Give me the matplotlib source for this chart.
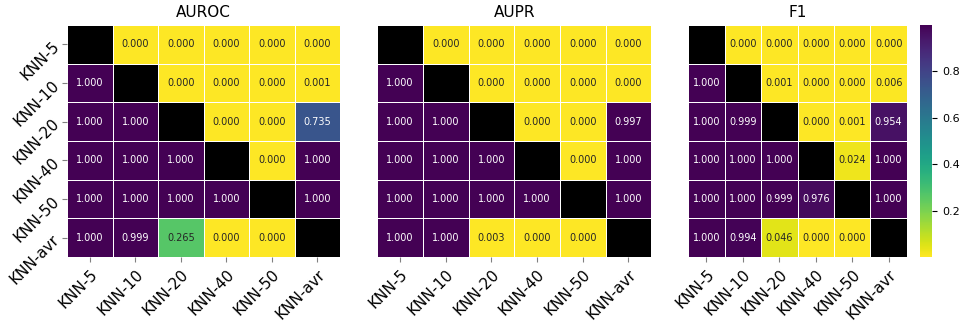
import numpy as np
import seaborn as sns
from matplotlib import pyplot as plt

labels = ["KNN-5", "KNN-10", "KNN-20", "KNN-40", "KNN-50", "KNN-avr"]
titles = ["AUROC", "AUPR", "F1"]

auroc = [[np.nan, 0.000, 0.000, 0.000, 0.000, 0.000],
         [1.000, np.nan, 0.000, 0.000, 0.000, 0.001],
         [1.000, 1.000, np.nan, 0.000, 0.000, 0.735],
         [1.000, 1.000, 1.000, np.nan, 0.000, 1.000],
         [1.000, 1.000, 1.000, 1.000, np.nan, 1.000],
         [1.000, 0.999, 0.265, 0.000, 0.000, np.nan]]
aupr = [[np.nan, 0.000, 0.000, 0.000, 0.000, 0.000],
        [1.000, np.nan, 0.000, 0.000, 0.000, 0.000],
        [1.000, 1.000, np.nan, 0.000, 0.000, 0.997],
        [1.000, 1.000, 1.000, np.nan, 0.000, 1.000],
        [1.000, 1.000, 1.000, 1.000, np.nan, 1.000],
        [1.000, 1.000, 0.003, 0.000, 0.000, np.nan]]
f1 = [[np.nan, 0.000, 0.000, 0.000, 0.000, 0.000],
      [1.000, np.nan, 0.001, 0.000, 0.000, 0.006],
      [1.000, 0.999, np.nan, 0.000, 0.001, 0.954],
      [1.000, 1.000, 1.000, np.nan, 0.024, 1.000],
      [1.000, 1.000, 0.999, 0.976, np.nan, 1.000],
      [1.000, 0.994, 0.046, 0.000, 0.000, np.nan]]

fig = plt.figure(figsize=(9.72, 3.24), dpi=100)
axes = [fig.add_axes([0.069, 0.207, 0.281, 0.716]),
        fig.add_axes([0.388, 0.207, 0.282, 0.716]),
        fig.add_axes([0.708, 0.207, 0.225, 0.716])]
cax = fig.add_axes([0.947, 0.207, 0.012, 0.716])

for i, (ax, data, title) in enumerate(zip(axes, [auroc, aupr, f1], titles)):
    last = i == 2
    sns.heatmap(np.array(data), ax=ax, cmap="viridis_r", annot=True, fmt=".3f",
                annot_kws={"fontsize": 7}, linewidths=0.5, linecolor="white",
                cbar=last, cbar_ax=cax if last else None,
                xticklabels=labels, yticklabels=labels if i == 0 else False)
    ax.set_facecolor("black")
    ax.set_title(title, fontsize=11)
    ax.set_xticklabels(labels, rotation=45, ha="right", rotation_mode="anchor", fontsize=11)
    ax.tick_params(axis="x", length=3.5, color="gray")
    if i == 0:
        ax.set_yticklabels(labels, rotation=45, ha="right", rotation_mode="anchor", fontsize=11)
        ax.tick_params(axis="y", length=3.5, color="gray")

cax.set_yticks([0.2, 0.4, 0.6, 0.8])
cax.tick_params(labelsize=8)

plt.savefig("out.png", dpi=100)
